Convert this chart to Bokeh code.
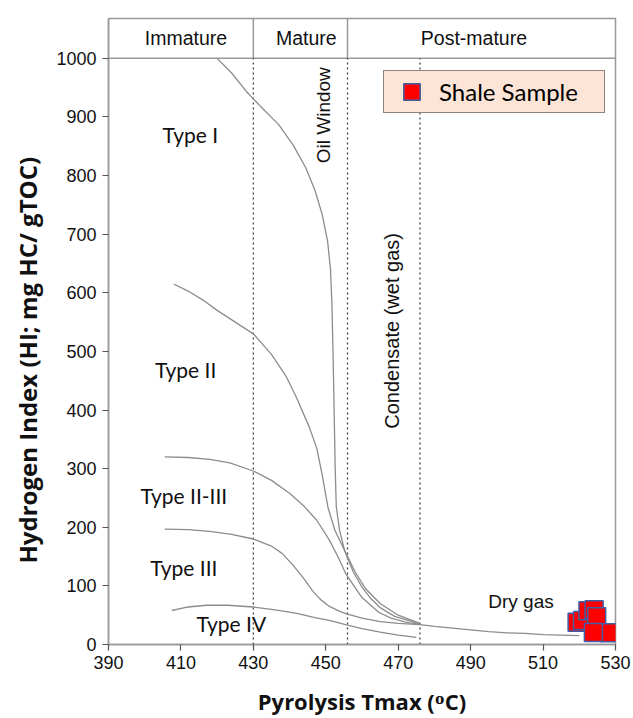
import math
from bokeh.plotting import figure
from bokeh.models import Range1d, Label, Legend, LegendItem, FixedTicker, Title
from bokeh.embed import file_html
from bokeh.resources import INLINE

# ---------------- data ----------------
type1_t = [420, 424, 428, 432, 437, 441, 444.5, 447, 449, 450.5, 451.3, 451.7, 452, 452.3, 452.6, 452.9, 453.8, 455.2, 457.5, 460, 462.5, 465, 469, 476]
type1_hi = [1000, 975, 944, 918, 887, 852, 813, 775, 734, 688, 640, 580, 500, 400, 300, 235, 195, 160, 125, 98, 78, 63, 48, 35]

type2_t = [408, 412, 416, 420, 425, 430, 435, 439, 442, 445.5, 447.5, 449, 450.6, 452.5, 455.4, 458, 461, 465, 470, 476]
type2_hi = [615, 603, 588, 570, 550, 530, 495, 458, 420, 370, 335, 290, 234, 195, 158, 125, 95, 70, 50, 36]

type23_t = [405.5, 412, 418, 423.5, 430, 435, 440, 444, 447.5, 451, 453.5, 455.5, 458, 460, 464.6, 468, 472, 476]
type23_hi = [320, 319, 316, 310, 296, 280, 258, 236, 212, 178, 148, 121, 98, 80, 55, 45, 38, 34]

type3_t = [405.5, 412, 418, 424, 430, 435, 438, 441, 444, 446.3, 448.5, 451, 454, 456, 460, 465, 470, 476]
type3_hi = [197, 196, 193, 188, 180, 168, 155, 135, 112, 92, 77, 65, 56, 52, 45, 39, 36, 34]

type4_t = [407.5, 412, 417, 423, 430, 436, 442, 447, 451, 456, 460, 465, 470, 475]
type4_hi = [58, 64, 67, 67, 64, 59, 53, 46, 41, 33, 27, 21, 16, 12]

tail_t = [476, 480, 485, 490, 495, 500, 505, 510, 515, 520]
tail_hi = [34, 31, 28, 25, 22, 20, 19, 17, 16, 15]

sample_tmax = [519.4, 520.9, 522.4, 524.1, 524.8, 528.4, 523.9]
sample_hi = [38, 40.9, 57.4, 59.1, 47.2, 20, 20.4]

zone_bounds = [430, 456, 476]
band_labels = ["Immature", "Mature", "Post-mature"]
band_centers = [411.4, 444.6, 490.9]
type_labels = ["Type I", "Type II", "Type II-III", "Type III", "Type IV"]
type_label_x = [412.6, 411.3, 410.8, 410.8, 423.9]
type_label_y = [870, 470, 254, 131, 35]
x_ticks = [390, 410, 430, 450, 470, 490, 510, 530]
y_ticks = [0, 100, 200, 300, 400, 500, 600, 700, 800, 900, 1000]

GRAY = "#999999"
CURVE = "#8c8c8c"
TXT = "#111111"

p = figure(width=633, height=718, output_backend="svg", toolbar_location=None,
           x_range=Range1d(390, 530), y_range=Range1d(0, 1068),
           min_border_left=108, min_border_right=18, min_border_top=18, min_border_bottom=74)
p.xgrid.visible = False
p.ygrid.visible = False
p.background_fill_color = "white"
p.border_fill_color = "white"
p.outline_line_color = GRAY
p.outline_line_width = 1.5

for ax in (p.xaxis, p.yaxis):
    ax.axis_line_color = GRAY
    ax.axis_line_width = 1.5
    ax.major_tick_line_color = "#555555"
    ax.major_tick_line_width = 1.2
    ax.major_tick_in = 0
    ax.major_tick_out = 6
    ax.minor_tick_line_color = None
    ax.major_label_text_font = "Liberation Sans"
    ax.major_label_text_font_size = "18px"
    ax.major_label_text_color = TXT
    ax.axis_label_text_font = "Open Sans"
    ax.axis_label_text_font_style = "bold"
    ax.axis_label_text_color = TXT
p.xaxis.ticker = FixedTicker(ticks=x_ticks)
p.yaxis.ticker = FixedTicker(ticks=y_ticks)
p.xaxis.major_label_standoff = 5
p.yaxis.major_label_standoff = 6
p.xaxis.axis_label = "Pyrolysis Tmax (ᴼC)"
p.xaxis.axis_label_text_font_size = "22px"
p.xaxis.axis_label_standoff = 14

ytitle = Title(text="Hydrogen Index (HI; mg HC/ gTOC)", align="left", offset=81,
               vertical_align="top",
               text_font="Open Sans", text_font_style="bold", text_font_size="24px",
               text_color=TXT, standoff=16)
p.add_layout(ytitle, "left")

# band line and dividers
p.line([390, 530], [1000, 1000], line_color=GRAY, line_width=1.5)
for b in zone_bounds[:2]:
    p.line([b, b], [1000, 1068], line_color=GRAY, line_width=1.5)
for b in zone_bounds:
    p.line([b, b], [0, 1000], line_color="#444444", line_width=1.3, line_dash="2 3")

# curves
for xs, ys in [(type1_t, type1_hi), (type2_t, type2_hi), (type23_t, type23_hi),
               (type3_t, type3_hi), (type4_t, type4_hi), (tail_t, tail_hi)]:
    p.line(xs, ys, line_color=CURVE, line_width=1.3)

# samples
r = p.scatter(sample_tmax, sample_hi, marker="square", size=18, fill_color="#ff0000",
              line_color="#3f5fa8", line_width=1.5)

# texts
for t, cx in zip(band_labels, band_centers):
    p.add_layout(Label(x=cx, y=1034, text=t, text_align="center", text_baseline="middle",
                       text_font="Liberation Sans", text_font_size="19.5px", text_color=TXT))
for t, lx, ly in zip(type_labels, type_label_x, type_label_y):
    p.add_layout(Label(x=lx, y=ly, text=t, text_align="center", text_baseline="middle",
                       text_font="Lato", text_font_size="21px", text_color=TXT))
p.add_layout(Label(x=449.5, y=903, text="Oil Window", angle=math.pi / 2, text_align="center",
                   text_baseline="middle", text_font="Liberation Sans", text_font_size="19px",
                   text_color=TXT))
p.add_layout(Label(x=468.2, y=535, text="Condensate (wet gas)", angle=math.pi / 2, text_align="center",
                   text_baseline="middle", text_font="Liberation Sans", text_font_size="20px",
                   text_color=TXT))
p.add_layout(Label(x=503.9, y=73, text="Dry gas", text_align="center", text_baseline="middle",
                   text_font="Liberation Sans", text_font_size="19px", text_color=TXT))

legend = Legend(items=[LegendItem(label="Shale Sample", renderers=[r])],
                location=(275, 531), glyph_width=55, glyph_height=41, padding=0,
                label_standoff=0, label_width=165, label_height=41,
                label_text_font="Lato", label_text_font_size="24px", label_text_color="#000000",
                background_fill_color="#fce4d6", background_fill_alpha=1.0,
                border_line_color="#222222", border_line_width=1.5, margin=0)
p.add_layout(legend)

open("out.html", "w").write(file_html(p, INLINE))
